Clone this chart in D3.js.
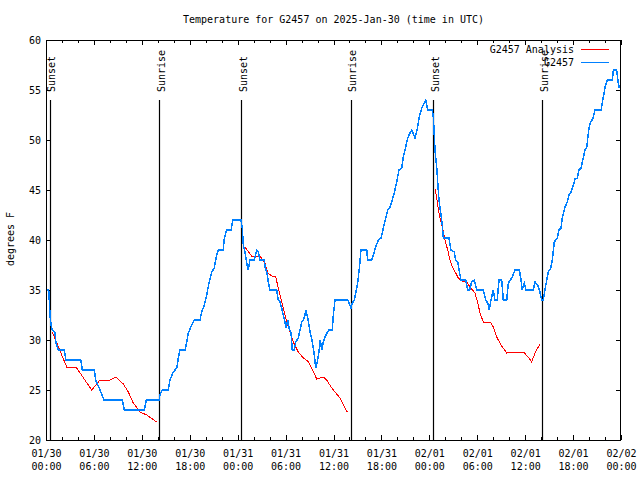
<!DOCTYPE html>
<html>
<head>
<meta charset="utf-8">
<script src="https://cdn.jsdelivr.net/npm/d3@7"></script>
<style>
  html, body { margin: 0; padding: 0; background: #fff; }
  svg { display: block; }
  text { font-family: "DejaVu Sans Mono", "Liberation Mono", monospace; font-size: 10px; fill: #000; }
</style>
</head>
<body>
<script>
// ---- Data (hours since 2025-01-30 00:00 UTC) ----
const title = "Temperature for G2457 on 2025-Jan-30 (time in UTC)";
const yLabel = "degrees F";
const seriesNames = ["G2457 Analysis", "G2457"];

// Observed G2457 temperature (°F)
const obsHours = [0.09,0.34,0.38,0.50,0.63,0.79,1.13,1.25,1.54,2.29,2.50,4.35,4.55,6.05,6.22,6.76,7.26,9.55,9.80,12.31,12.56,14.15,14.27,14.56,15.31,15.53,15.94,16.37,16.57,16.78,17.41,17.62,17.82,18.24,18.57,19.28,19.50,19.82,20.12,20.41,20.75,21.07,21.37,21.58,22.20,22.33,22.63,23.17,23.38,24.42,24.58,24.71,24.92,25.13,25.33,25.54,26.08,26.26,26.38,26.58,26.80,27.34,27.43,27.64,27.84,28.05,28.89,29.09,29.30,29.51,29.71,29.93,30.05,30.27,30.43,30.68,30.84,31.09,31.27,31.59,31.81,32.02,32.22,32.43,32.55,32.77,33.06,33.35,33.60,33.77,33.97,34.18,34.35,34.52,34.72,34.94,35.19,35.44,35.85,35.98,36.19,37.78,37.94,38.19,38.35,38.61,38.78,39.03,39.28,39.44,40.16,40.28,40.78,40.99,41.28,41.61,41.95,42.24,42.54,42.79,43.08,43.29,43.61,43.91,44.20,44.54,44.74,45.04,45.29,45.58,45.79,46.21,46.54,46.71,47.05,47.37,47.55,47.80,48.37,48.50,48.59,48.71,48.92,49.05,49.21,49.46,49.62,49.75,50.46,50.71,51.13,51.30,51.55,51.72,51.97,52.55,52.80,53.05,53.30,53.63,53.93,54.76,55.06,55.31,55.51,55.72,56.01,56.22,56.51,56.72,57.06,57.26,57.69,57.89,58.14,58.39,58.73,59.27,59.48,59.64,59.89,60.10,61.02,61.23,61.56,61.85,62.07,62.27,62.48,62.70,62.90,63.20,63.40,63.65,63.82,64.02,64.24,64.49,64.65,64.99,65.28,65.49,65.74,66.03,66.24,66.53,66.74,66.99,67.28,67.49,67.70,67.99,68.21,68.46,68.75,69.50,69.79,70.00,70.29,70.92,71.04,71.46,71.66,71.79];
const obsTemps = [35,35,34.5,32.5,31.5,31,30.7,29.7,29,29,28,28,27,27,26,25,24,24,23,23,24,24,24.5,25,25,26,26.8,27.2,28.2,29,29,29.8,30.7,31.5,32,32,32.8,33.5,34.5,35.7,36.8,37.2,38.5,39,39,40.2,41,41,42,42,41.2,39.5,38.8,37.7,37,38,38,38.6,39,38.8,38,38,37.3,36.8,35.8,35,35,34,33.8,33.2,32.5,31.8,31.2,32,31.2,30.7,29,29,29.8,30.2,31,31.8,32,32.5,33,32.2,30.8,29.8,28.5,27.2,27.8,28.8,30,29,29.8,30.3,30.7,31,31,32.5,34,34,33.7,33.2,33.7,34,34.7,35.7,37.5,39,39,38,38,38.5,39.3,40,40.2,41.2,42.2,43,43.3,43.8,44.7,45.8,47,47.2,48.3,49.3,50.2,50.7,51,50.2,51.3,52.2,53.2,53.7,54,53,53,52.3,51,49,47.3,45.8,44,42.5,41.5,40.2,40.2,39,38.8,38,37.8,37,36,36,35,35,35.8,36,35,35,34,33.7,33,34,35,34,34,36,36,34,34,35.7,36,36.3,37,37,36,35,35.7,35,35,35.8,35.5,34.8,34,34,35,36,36.8,37.2,38,39.8,40,40.2,41,41.2,42.2,43.3,43.8,44.5,44.8,45.5,46.1,46.2,47,47.2,48.2,49,49.2,51.2,51.8,52.1,53,53,54.3,55.3,56,56,57,57,55.7,55.2];

// Analysis temperature (°F); null separates the night-time segments
const anaHours = [0.79,2.59,3.76,5.72,6.76,7.80,8.77,9.68,10.31,10.93,11.77,12.61,13.86,null,
  24.92,25.76,26.80,27.43,27.76,28.26,28.76,29.30,29.71,30.14,30.55,30.97,31.59,32.22,32.77,33.27,33.90,34.72,35.15,35.78,36.81,37.23,37.73,null,
  48.71,48.92,49.21,49.46,49.67,49.96,50.30,50.59,50.88,51.30,51.63,52.13,52.68,53.09,53.72,54.06,54.35,54.76,55.72,56.01,56.44,56.97,57.69,58.32,59.77,60.39,60.82,61.23,61.85];
const anaTemps = [30.8,27.3,27.3,25,26,25.9,26.3,25.6,24.8,23.7,22.8,22.5,21.8,null,
  39.3,38.4,38.4,37.7,36.7,36.4,36.3,34.5,33.2,31.8,30.8,29.8,28.8,28.2,27.9,27.2,26.1,26.3,26,25.2,24.2,23.5,22.8,null,
  45.1,44.2,42.7,41.8,41.2,40,39,38,37.3,36.7,36.2,35.9,35.8,35.3,34.7,33.7,32.7,31.8,31.7,31.3,30.3,29.5,28.7,28.8,28.8,28.3,27.8,28.7,29.6];

// Sun events
const sunHours = [0.50, 14.15, 24.42, 38.19, 48.46, 62.13];
const sunLabels = ["Sunset", "Sunrise", "Sunset", "Sunrise", "Sunset", "Sunrise"];

// Axis ticks
const yTicks = [20,25,30,35,40,45,50,55,60];
const xMajorHours = d3.range(0, 73, 6);
const xMinorHours = d3.range(0, 73, 2);

// ---- Chart ----
const W = 640, H = 480;
const BASE = Date.UTC(2025, 0, 30);
const toDate = h => new Date(BASE + h * 3600e3);

const x = d3.scaleUtc().domain([toDate(0), toDate(72)]).range([46, 621]);
const y = d3.scaleLinear().domain([20, 60]).range([440, 40]);

const svg = d3.select("body").append("svg").attr("width", W).attr("height", H);

// Title
svg.append("text").attr("x", 333.5).attr("y", 23).attr("text-anchor", "middle").text(title);

// Y label
svg.append("text").attr("transform", "translate(13.5,239) rotate(-90)")
  .attr("text-anchor", "middle").text(yLabel);

// Axes
const fmtDay = d3.utcFormat("%m/%d"), fmtTime = d3.utcFormat("%H:%M");

const gxMinorB = svg.append("g").attr("transform", "translate(0,440)")
  .call(d3.axisBottom(x).tickValues(xMinorHours.map(toDate)).tickSize(-3).tickFormat(""));
const gxMinorT = svg.append("g").attr("transform", "translate(0,40)")
  .call(d3.axisTop(x).tickValues(xMinorHours.map(toDate)).tickSize(-3).tickFormat(""));
const gxB = svg.append("g").attr("transform", "translate(0,440)")
  .call(d3.axisBottom(x).tickValues(xMajorHours.map(toDate)).tickSize(-5).tickFormat(fmtDay));
const gxT = svg.append("g").attr("transform", "translate(0,40)")
  .call(d3.axisTop(x).tickValues(xMajorHours.map(toDate)).tickSize(-5).tickFormat(""));
const gyL = svg.append("g").attr("transform", "translate(46,0)")
  .call(d3.axisLeft(y).tickValues(yTicks).tickSize(-5).tickPadding(5));
const gyR = svg.append("g").attr("transform", "translate(621,0)")
  .call(d3.axisRight(y).tickValues(yTicks).tickSize(-5).tickFormat(""));

gxB.selectAll(".tick text").each(function(d) {
  const t = d3.select(this);
  t.text(null).attr("dy", null).attr("y", 16.5);
  t.append("tspan").attr("x", 0).text(fmtDay(d));
  t.append("tspan").attr("x", 0).attr("dy", 13.5).text(fmtTime(d));
});

[gxMinorB, gxMinorT, gxB, gxT, gyL, gyR].forEach(g => {
  g.select(".domain").remove();
  g.selectAll("line").attr("stroke", "#000").attr("shape-rendering", "crispEdges");
  g.selectAll("text").attr("font-family", null).attr("font-size", null).attr("fill", "#000");
});

// Frame
svg.append("rect").attr("x", 46.5).attr("y", 40.5).attr("width", 574).attr("height", 399.5)
  .attr("fill", "none").attr("stroke", "#000").attr("stroke-width", 1).attr("shape-rendering", "crispEdges");

// Sun event lines and labels
const sun = svg.append("g");
sun.selectAll("line").data(sunHours).join("line")
  .attr("x1", d => Math.round(x(toDate(d))) + 0.5).attr("x2", d => Math.round(x(toDate(d))) + 0.5)
  .attr("y1", 100).attr("y2", 440).attr("stroke", "#000").attr("stroke-width", 1.2);
sun.selectAll("text").data(sunHours).join("text")
  .attr("transform", d => `translate(${x(toDate(d)) + 5.5},92) rotate(-90)`)
  .text((d, i) => sunLabels[i]);

// Lines
const anaData = anaHours.map((h, i) => ({ h, t: anaTemps[i] }));
const obsData = obsHours.map((h, i) => ({ h, t: obsTemps[i] }));
const line = d3.line().defined(d => d.h != null && d.t != null)
  .x(d => x(toDate(d.h))).y(d => y(d.t));

svg.append("path").datum(anaData).attr("d", line)
  .attr("fill", "none").attr("stroke", "#ff0000").attr("stroke-width", 1)
  .attr("shape-rendering", "crispEdges");
svg.append("path").datum(obsData).attr("d", line)
  .attr("fill", "none").attr("stroke", "#0080ff").attr("stroke-width", 1.5)
  .attr("shape-rendering", "crispEdges");

// Legend
const legendColors = ["#ff0000", "#0080ff"];
const leg = svg.append("g");
seriesNames.forEach((name, i) => {
  const cy = 49 + i * 13;
  leg.append("text").attr("x", 574).attr("y", cy + 3.5).attr("text-anchor", "end").text(name);
  leg.append("line").attr("x1", 581).attr("x2", 609).attr("y1", cy + 0.5).attr("y2", cy + 0.5)
    .attr("stroke", legendColors[i]).attr("stroke-width", i === 0 ? 1 : 1.5)
    .attr("shape-rendering", "crispEdges");
});
</script>
</body>
</html>
